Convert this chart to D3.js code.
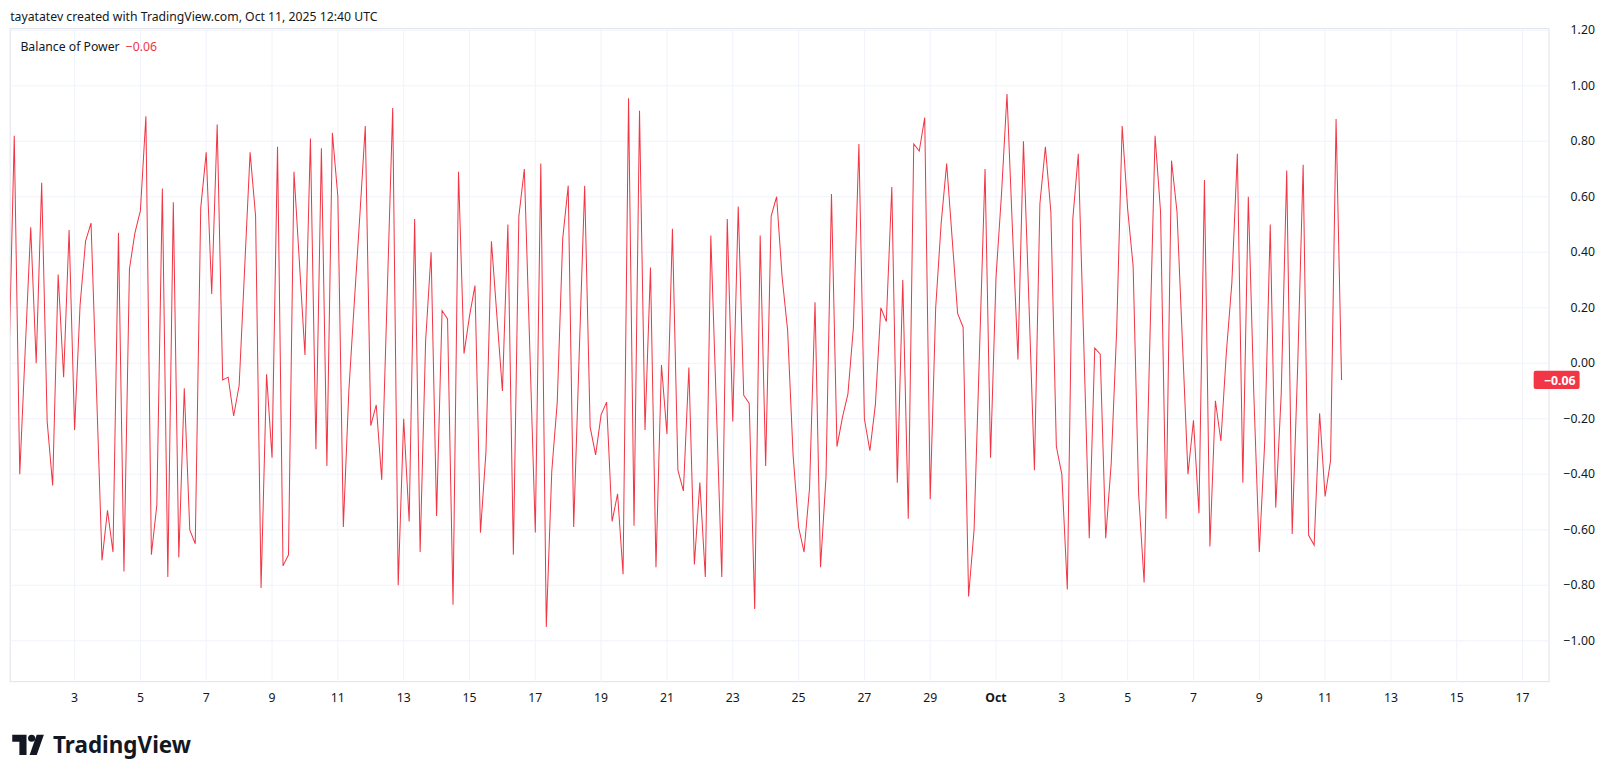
<!DOCTYPE html>
<html><head><meta charset="utf-8">
<script src="https://cdn.jsdelivr.net/npm/d3@7"></script>
<style>body{margin:0;background:#fff;font-family:"Noto Sans",Roboto,sans-serif}svg{display:block}</style>
</head><body>
<script>
// 4h Balance of Power values, starting Sep 1 2025 00:00 UTC
var bop = [-0.02,
  0.82,-0.40,0.05,0.49,0.0,0.65,-0.21,-0.44,0.32,-0.05,0.48,-0.24,0.21,0.44,0.505,-0.10,-0.71,-0.53,-0.68,0.47,-0.75,0.34,0.47,0.55,0.89,-0.69,-0.51,0.63,-0.77,0.58,-0.70,-0.09,-0.60,-0.65,0.56,0.76,0.25,0.86,-0.06,-0.05,
  -0.19,-0.08,0.34,0.76,0.53,-0.81,-0.04,-0.34,0.78,-0.73,-0.69,0.69,0.36,0.03,0.81,-0.31,0.775,-0.37,0.83,0.60,-0.59,-0.10,0.22,0.53,0.855,-0.225,-0.15,-0.42,0.25,0.92,-0.80,-0.20,-0.57,0.52,-0.68,0.08,0.40,-0.55,0.19,0.16,
  -0.87,0.69,0.035,0.17,0.28,-0.61,-0.32,0.44,0.17,-0.10,0.50,-0.69,0.53,0.70,0.05,-0.61,0.72,-0.95,-0.39,-0.14,0.45,0.64,-0.59,0.03,0.64,-0.23,-0.33,-0.185,-0.14,-0.57,-0.47,-0.76,0.955,-0.585,0.91,-0.24,0.345,-0.735,-0.006,-0.255,
  0.485,-0.385,-0.46,-0.015,-0.725,-0.43,-0.77,0.46,-0.15,-0.77,0.52,-0.21,0.565,-0.115,-0.145,-0.885,0.46,-0.37,0.53,0.60,0.31,0.12,-0.33,-0.59,-0.68,-0.45,0.22,-0.735,-0.41,0.61,-0.30,-0.195,-0.11,0.13,0.79,-0.20,-0.315,-0.15,0.20,0.15,
  0.635,-0.43,0.30,-0.56,0.79,0.765,0.885,-0.49,0.20,0.505,0.72,0.45,0.18,0.13,-0.84,-0.60,0.05,0.70,-0.34,0.31,0.61,0.97,0.48,0.014,0.80,0.22,-0.385,0.575,0.78,0.545,-0.30,-0.40,-0.815,0.52,0.755,0.07,-0.63,0.055,0.033,-0.63,
  -0.36,0.12,0.855,0.555,0.35,-0.47,-0.79,0.04,0.82,0.545,-0.56,0.73,0.545,0.07,-0.40,-0.205,-0.54,0.66,-0.66,-0.135,-0.28,0.04,0.29,0.755,-0.43,0.60,-0.11,-0.68,-0.28,0.50,-0.52,-0.11,0.695,-0.615,-0.01,0.715,-0.62,-0.655,-0.18,-0.48,
  -0.35,0.88,-0.06];
var yTicks = [-1.0,-0.8,-0.6,-0.4,-0.2,0,0.2,0.4,0.6,0.8,1.0,1.2];
var xTickDates = ['2025-09-03','2025-09-05','2025-09-07','2025-09-09','2025-09-11','2025-09-13','2025-09-15','2025-09-17','2025-09-19','2025-09-21','2025-09-23','2025-09-25','2025-09-27','2025-09-29','2025-10-01','2025-10-03','2025-10-05','2025-10-07','2025-10-09','2025-10-11','2025-10-13','2025-10-15','2025-10-17'];

var width = 1600, height = 778,
    paneL = 10, paneR = 1518, paneT = 28, paneB = 668,
    red = '#F23645';

var start = Date.UTC(2025, 8, 1);
var data = bop.map(function(v, i){ return {t: new Date(start + i*4*3600*1000), v: v}; });

var svg = d3.select('body').append('svg').attr('width', width).attr('height', height)
  .attr('viewBox', '0 0 1568 762.4');

var x = d3.scaleUtc().domain([new Date(start), new Date(Date.UTC(2025, 9, 17))]).range([8.6, 8.6 + 46*32.25]);
var y = d3.scaleLinear().domain([-1, 1]).range([628, 84]);

svg.append('rect').attr('x', paneL).attr('y', paneT).attr('width', paneR - paneL).attr('height', paneB - paneT)
  .attr('fill', 'none').attr('stroke', '#e0e3eb');

var grid = svg.append('g').attr('stroke', '#f0f3fa');
grid.selectAll('.h').data(yTicks).enter().append('line')
  .attr('x1', paneL).attr('x2', paneR).attr('y1', function(d){return y(d);}).attr('y2', function(d){return y(d);});
grid.selectAll('.v').data(xTickDates).enter().append('line')
  .attr('y1', paneT).attr('y2', paneB)
  .attr('x1', function(d){return x(new Date(d));}).attr('x2', function(d){return x(new Date(d));});

svg.append('clipPath').attr('id', 'pane').append('rect')
  .attr('x', paneL).attr('y', paneT).attr('width', paneR - paneL).attr('height', paneB - paneT);

svg.append('path').datum(data).attr('clip-path', 'url(#pane)')
  .attr('fill', 'none').attr('stroke', red).attr('stroke-width', 1)
  .attr('d', d3.line().x(function(d){return x(d.t);}).y(function(d){return y(d.v);}));

// right axis labels
svg.selectAll('.yl').data(yTicks).enter().append('text')
  .attr('x', 1563).attr('y', function(d){return y(d) + 4;}).attr('text-anchor', 'end')
  .attr('font-size', 12).attr('fill', '#131722')
  .text(function(d){ return d < 0 ? '\u2212' + Math.abs(d).toFixed(2) : d.toFixed(2); });

// bottom axis labels
svg.selectAll('.xl').data(xTickDates).enter().append('text')
  .attr('x', function(d){return x(new Date(d));}).attr('y', 688).attr('text-anchor', 'middle')
  .attr('font-size', 12).attr('fill', '#131722')
  .attr('font-weight', function(d){ return d.slice(8) === '01' ? 'bold' : 'normal'; })
  .text(function(d){ var dt = new Date(d); return dt.getUTCDate() === 1 ? 'Oct' : dt.getUTCDate(); });

// last value tag
var last = bop[bop.length - 1];
svg.append('rect').attr('x', 1503).attr('y', y(last) - 9).attr('width', 45).attr('height', 18).attr('rx', 2).attr('fill', red);
svg.append('text').attr('x', 1544).attr('y', y(last) + 4.5).attr('text-anchor', 'end')
  .attr('font-size', 12).attr('font-weight', 'bold').attr('fill', '#fff').text('\u22120.06');

// header and legend
svg.append('text').attr('x', 10).attr('y', 21).attr('font-size', 12).attr('fill', '#131722')
  .text('tayatatev created with TradingView.com, Oct 11, 2025 12:40 UTC');
var leg = svg.append('text').attr('x', 20).attr('y', 50).attr('font-size', 12).attr('fill', '#131722');
leg.append('tspan').text('Balance of Power');
leg.append('tspan').attr('dx', 6).attr('fill', red).text('\u22120.06');

// TradingView logo
var logo = svg.append('g').attr('transform', 'translate(12,720)').attr('fill', '#131722');
logo.append('path').attr('d', 'M0 0H14V20H7V7H0Z');
logo.append('circle').attr('cx', 19).attr('cy', 3.5).attr('r', 3.5);
logo.append('path').attr('d', 'M24 0H31L24 20H17Z');
svg.append('text').attr('x', 52).attr('y', 738).attr('font-size', 22).attr('font-weight', 'bold')
  .attr('fill', '#131722').text('TradingView');
</script>
</body></html>
